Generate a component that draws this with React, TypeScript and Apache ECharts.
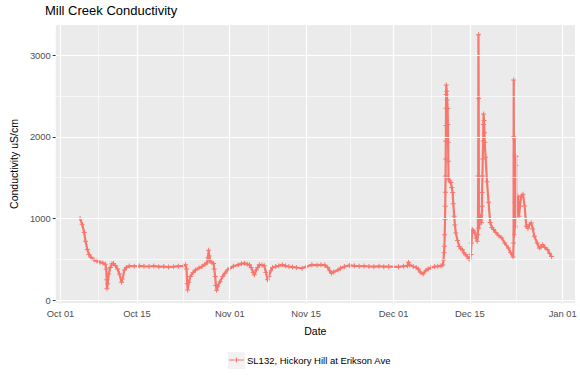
import React, { useEffect, useRef } from "react";
import * as echarts from "echarts";

const YEAR = 2016;
const RED = "#F8766D";

// Readings (month-day hour:minute, 2016) and conductivity (uS/cm)
const times: string[] = [
  "10-04 14:00", "10-04 23:00", "10-05 08:00", "10-05 14:00", "10-05 22:00", "10-06 05:00", "10-06 14:00", "10-07 03:00", "10-07 16:00", "10-08 05:00",
  "10-08 18:00", "10-09 05:00", "10-09 09:00", "10-09 11:00", "10-09 12:00", "10-09 15:00", "10-09 20:00", "10-10 03:00", "10-10 10:00", "10-10 17:00",
  "10-11 02:00", "10-11 11:00", "10-11 19:00", "10-12 04:00", "10-12 08:00", "10-12 17:00", "10-13 01:00", "10-13 14:00", "10-14 12:00", "10-15 10:00",
  "10-16 07:00", "10-17 05:00", "10-18 02:00", "10-19 00:00", "10-19 22:00", "10-20 19:00", "10-21 17:00", "10-22 14:00", "10-23 12:00", "10-23 22:00",
  "10-24 02:00", "10-24 05:00", "10-24 07:00", "10-24 12:00", "10-24 19:00", "10-25 07:00", "10-25 17:00", "10-26 09:00", "10-26 22:00", "10-27 11:00",
  "10-27 20:00", "10-28 00:00", "10-28 03:00", "10-28 06:00", "10-28 10:00", "10-28 17:00", "10-29 01:00", "10-29 04:00", "10-29 08:00", "10-29 11:00",
  "10-29 14:00", "10-29 19:00", "10-30 05:00", "10-30 17:00", "10-31 03:00", "10-31 14:00", "11-01 00:00", "11-01 16:00", "11-02 13:00", "11-03 03:00",
  "11-03 17:00", "11-04 05:00", "11-04 15:00", "11-04 22:00", "11-05 07:00", "11-05 12:00", "11-05 20:00", "11-06 03:00", "11-06 10:00", "11-06 22:00",
  "11-07 08:00", "11-07 15:00", "11-07 22:00", "11-08 04:00", "11-08 12:00", "11-08 20:00", "11-09 10:00", "11-09 23:00", "11-10 15:00", "11-11 05:00",
  "11-11 20:00", "11-12 12:00", "11-13 05:00", "11-14 06:00", "11-15 00:00", "11-16 01:00", "11-17 00:00", "11-17 17:00", "11-18 10:00", "11-18 23:00",
  "11-19 08:00", "11-19 15:00", "11-20 01:00", "11-20 20:00", "11-21 07:00", "11-22 00:00", "11-22 22:00", "11-23 20:00", "11-24 17:00", "11-25 15:00",
  "11-26 12:00", "11-27 10:00", "11-28 08:00", "11-29 05:00", "11-30 03:00", "12-01 00:00", "12-01 22:00", "12-02 20:00", "12-03 13:00", "12-03 18:00",
  "12-03 22:00", "12-04 15:00", "12-05 04:00", "12-05 13:00", "12-05 21:00", "12-06 10:00", "12-06 23:00", "12-07 08:00", "12-07 21:00", "12-08 13:00",
  "12-09 03:00", "12-09 17:00", "12-10 01:00", "12-10 04:00", "12-10 06:00", "12-10 08:00", "12-10 09:00", "12-10 10:30", "12-10 11:30", "12-10 12:00",
  "12-10 13:00", "12-10 13:30", "12-10 14:00", "12-10 14:30", "12-10 15:00", "12-10 15:30", "12-10 16:00", "12-10 18:00", "12-10 20:00", "12-10 22:00",
  "12-10 23:00", "12-11 00:00", "12-11 01:00", "12-11 02:00", "12-11 07:00", "12-11 12:00", "12-11 16:00", "12-11 20:00", "12-11 23:00", "12-12 03:00",
  "12-12 06:00", "12-12 10:00", "12-12 17:30", "12-13 01:00", "12-13 08:00", "12-13 15:00", "12-13 22:00", "12-14 05:00", "12-14 12:30", "12-14 19:00",
  "12-15 00:00", "12-15 04:00", "12-15 07:00", "12-15 10:00", "12-15 16:00", "12-15 22:00", "12-16 03:30", "12-16 08:00", "12-16 11:00", "12-16 12:30",
  "12-16 13:30", "12-16 14:30", "12-16 15:30", "12-16 19:00", "12-16 22:30", "12-17 03:00", "12-17 05:00", "12-17 05:30", "12-17 07:00", "12-17 08:30",
  "12-17 10:00", "12-17 11:00", "12-17 12:00", "12-17 14:00", "12-17 16:00", "12-17 17:00", "12-17 21:00", "12-18 03:00", "12-18 10:00", "12-18 17:00",
  "12-19 01:00", "12-19 08:00", "12-19 18:00", "12-20 07:00", "12-20 20:00", "12-21 09:00", "12-22 01:00", "12-22 11:00", "12-22 22:00", "12-23 00:00",
  "12-23 00:30", "12-23 01:00", "12-23 02:00", "12-23 04:00", "12-23 05:00", "12-23 06:00", "12-23 07:00", "12-23 08:00", "12-23 09:00", "12-23 10:00",
  "12-23 11:00", "12-23 12:00", "12-23 20:00", "12-24 00:00", "12-24 04:00", "12-24 10:00", "12-24 17:30", "12-25 00:30", "12-25 08:00", "12-25 15:00",
  "12-25 22:00", "12-26 05:30", "12-26 12:30", "12-26 19:30", "12-27 07:30", "12-27 17:00", "12-28 00:30", "12-28 08:00", "12-28 18:00", "12-29 05:30",
  "12-29 14:00", "12-29 23:00",
];

const conductivity: number[] = [
  1000, 930, 830, 720, 620, 560, 525, 495, 478, 465,
  455, 440, 380, 250, 140, 200, 320, 400, 445, 450,
  420, 380, 320, 220, 260, 370, 400, 418, 415, 420,
  415, 412, 418, 410, 412, 405, 410, 415, 420, 432,
  380, 200, 125, 220, 290, 340, 370, 395, 411, 440,
  455, 520, 610, 540, 475, 460, 450, 380, 290, 180,
  120, 170, 226, 290, 330, 370, 391, 415, 432, 445,
  453, 440, 432, 400, 340, 310, 370, 400, 432, 430,
  420, 340, 250, 290, 360, 400, 411, 420, 432, 420,
  412, 405, 400, 391, 410, 432, 428, 432, 430, 400,
  360, 329, 345, 370, 390, 411, 425, 420, 415, 418,
  412, 410, 415, 410, 412, 410, 408, 415, 420, 465,
  430, 412, 400, 380, 345, 320, 365, 380, 400, 411,
  415, 420, 430, 494, 580, 660, 800, 990, 1150, 1320,
  1520, 1730, 1950, 2140, 2350, 2520, 2634, 2560, 2450, 2346,
  2150, 1934, 1700, 1481, 1460, 1440, 1380, 1317, 1180, 1029,
  920, 823, 730, 658, 630, 617, 576, 555, 535, 510,
  502, 560, 700, 864, 850, 823, 760, 720, 800, 1520,
  3250, 2470, 880, 950, 1029, 947, 1150, 1317, 1520, 1728,
  1950, 2150, 2280, 2200, 2050, 1934, 1750, 1450, 1200, 950,
  890, 864, 830, 790, 761, 700, 638, 580, 527, 700,
  2695, 2000, 1500, 800, 1975, 1200, 1770, 900, 1650, 1100,
  1760, 1000, 1270, 1029, 1150, 1276, 1296, 1152, 905, 880,
  926, 947, 870, 782, 700, 638, 650, 679, 645, 617,
  575, 535,
];

const xMajorTicks: string[] = ["2016-10-01", "2016-10-15", "2016-11-01", "2016-11-15", "2016-12-01", "2016-12-15", "2017-01-01"];
const xMinorGrid: string[] = ["2016-10-08", "2016-10-23T12:00", "2016-11-08", "2016-11-23", "2016-12-08", "2016-12-23T12:00"];
const yMajorTicks: number[] = [0, 1000, 2000, 3000];
const yMinorGrid: number[] = [500, 1500, 2500];

const MONTHS = ["Jan", "Feb", "Mar", "Apr", "May", "Jun", "Jul", "Aug", "Sep", "Oct", "Nov", "Dec"];

function parseReading(s: string): number {
  const [md, hm] = s.split(" ");
  const [m, d] = md.split("-").map(Number);
  const [h, mi] = hm.split(":").map(Number);
  return Date.UTC(YEAR, m - 1, d, h, mi);
}
function parseIso(s: string): number {
  return Date.parse(s.length === 10 ? s + "T00:00:00Z" : s + ":00Z");
}

const FONT = "'Liberation Sans', Arial, sans-serif";

export default function App() {
  const ref = useRef<HTMLDivElement>(null);
  useEffect(() => {
    if (!ref.current) return;
    const chart = echarts.init(ref.current, null, { renderer: "svg" });
    const data = times.map((t, i) => [parseReading(t), conductivity[i]]);
    const xTicks = xMajorTicks.map(parseIso);
    const xMin = Date.UTC(2016, 8, 30, 3);
    const xMax = Date.UTC(2017, 0, 3, 6);
    const gridLines = [
      ...xTicks.map((v) => ({ xAxis: v, lineStyle: { width: 1.2 } })),
      ...xMinorGrid.map((s) => ({ xAxis: parseIso(s), lineStyle: { width: 0.6 } })),
      ...yMajorTicks.map((v) => ({ yAxis: v, lineStyle: { width: 1.2 } })),
      ...yMinorGrid.map((v) => ({ yAxis: v, lineStyle: { width: 0.6 } })),
    ];
    chart.setOption({
      animation: false,
      textStyle: { fontFamily: FONT },
      title: {
        text: "Mill Creek Conductivity",
        left: 45,
        top: 4,
        padding: 0,
        textStyle: { fontSize: 13, fontWeight: "normal", color: "#000", fontFamily: FONT },
      },
      grid: {
        left: 46,
        right: 5,
        top: 25,
        bottom: 77,
        show: true,
        backgroundColor: "#EBEBEB",
        borderWidth: 0,
      },
      legend: {
        left: 229,
        top: 355,
        padding: 0,
        itemWidth: 15,
        itemHeight: 5,
        icon: "path://M0,2h15v1h-15zM7,0h1v5h-1z",
        textStyle: { fontSize: 9.5, color: "#000", fontFamily: FONT, padding: [0, 0, 0, -2] },
        data: ["SL132, Hickory Hill at Erikson Ave"],
      },
      graphic: [
        { type: "rect", left: 228, top: 352, z: -1, shape: { width: 17, height: 17 }, style: { fill: "#F2F2F2" } },
      ],
      xAxis: {
        type: "value",
        min: xMin,
        max: xMax,
        name: "Date",
        nameLocation: "middle",
        nameGap: 22,
        nameTextStyle: { fontSize: 10.5, color: "#000", fontFamily: FONT },
        axisLine: { show: false },
        axisTick: { show: true, length: 3, customValues: xTicks, lineStyle: { color: "#333" } },
        axisLabel: {
          customValues: xTicks,
          margin: 6,
          fontSize: 9.4,
          color: "#4D4D4D",
          fontFamily: FONT,
          formatter: (v: number) => {
            const d = new Date(v);
            return MONTHS[d.getUTCMonth()] + " " + String(d.getUTCDate()).padStart(2, "0");
          },
        },
        splitLine: { show: false },
      },
      yAxis: {
        type: "value",
        min: -35,
        max: 3370,
        name: "Conductivity uS/cm",
        nameLocation: "middle",
        nameGap: 31,
        nameTextStyle: { fontSize: 10.5, color: "#000", fontFamily: FONT },
        axisLine: { show: false },
        axisTick: { show: true, length: 3, customValues: yMajorTicks, lineStyle: { color: "#333" } },
        axisLabel: {
          customValues: yMajorTicks,
          margin: 5,
          fontSize: 9.4,
          color: "#4D4D4D",
          fontFamily: FONT,
          formatter: (v: number) => String(Math.round(v)),
        },
        splitLine: { show: false },
      },
      series: [
        {
          type: "line",
          name: "grid",
          z: 1,
          silent: true,
          data: [[xMin, 0], [xMax, 0]],
          symbol: "none",
          lineStyle: { opacity: 0 },
          markLine: {
            silent: true,
            symbol: ["none", "none"],
            label: { show: false },
            emphasis: { disabled: true },
            lineStyle: { color: "#FFFFFF", type: "solid", width: 1.2 },
            data: gridLines,
          },
          tooltip: { show: false },
        },
        {
          type: "line",
          name: "SL132, Hickory Hill at Erikson Ave",
          z: 3,
          data,
          showSymbol: true,
          showAllSymbol: true,
          symbol: "path://M2,0h1v2h2v1h-2v2h-1v-2h-2v-1h2z",
          symbolSize: 5,
          itemStyle: { color: RED },
          lineStyle: { color: RED, width: 2.2 },
          emphasis: { disabled: true },
        },
      ],
    });
    return () => chart.dispose();
  }, []);
  return <div ref={ref} style={{ width: 580, height: 380, position: "absolute", left: 0, top: 0 }} />;
}
